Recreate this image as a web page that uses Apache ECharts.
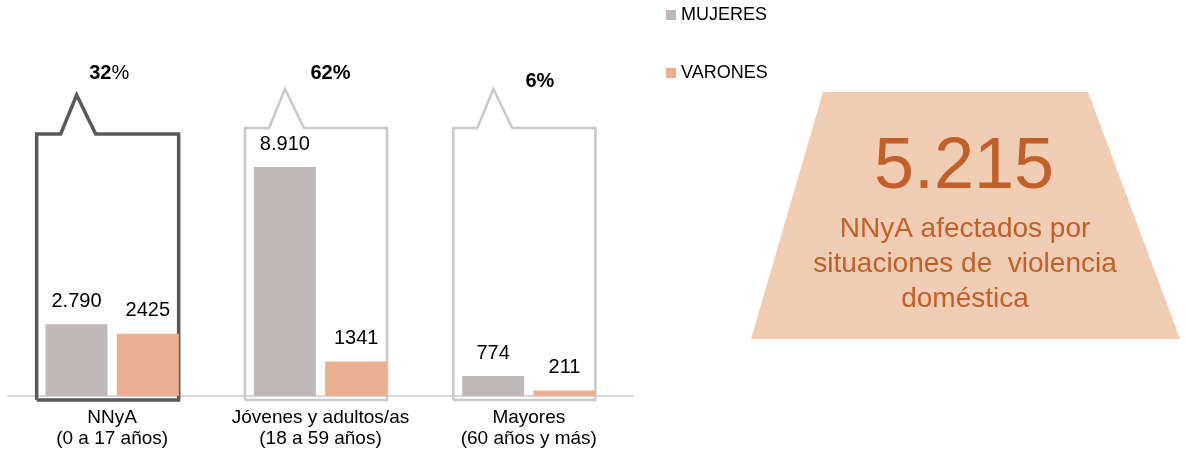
<!DOCTYPE html>
<html>
<head>
<meta charset="utf-8">
<script src="https://cdn.jsdelivr.net/npm/echarts@6/dist/echarts.min.js"></script>
<style>
  html, body { margin: 0; padding: 0; background: #fff; }
  #chart { width: 1186px; height: 452px; }
</style>
</head>
<body>
<div id="chart"></div>
<script>
// datos
const categories = ['NNyA\n(0 a 17 años)', 'Jóvenes y adultos/as\n(18 a 59 años)', 'Mayores\n(60 años y más)']
const mujeres = [2790, 8910, 774]
const varones = [2425, 1341, 211]
const mujeresLabels = ['2.790', '8.910', '774']
const varonesLabels = ['2425', '1341', '211']
const pctLabels = ['32', '62', '6']
const totalNNyA = mujeres[0] + varones[0]

const font = 'Liberation Sans, Arial, sans-serif'

// caja con "pico" alrededor de cada grupo
const boxStyle = [
  { stroke: '#595959', lineWidth: 3.5, top: 262, pctDx: 0, pctY: 73, pctBold: false },
  { stroke: '#c9c9c9', lineWidth: 2.5, top: 268, pctDx: 13, pctY: 73, pctBold: true },
  { stroke: '#c9c9c9', lineWidth: 2.5, top: 268, pctDx: 14, pctY: 81, pctBold: true }
]

function renderBox(params, api) {
  const i = api.value(0)
  const p = api.coord([i, 0])
  const s = boxStyle[i]
  const l = p[0] - 75.5
  const r = p[0] + 66.5
  const b = p[1] + 4
  const t = p[1] - s.top
  const pts = [
    [l, b], [l, t], [l + 24, t], [l + 40, t - 39], [l + 59, t], [r, t], [r, b], [l, b]
  ]
  return {
    type: 'group',
    children: [
      {
        type: 'polyline',
        shape: { points: pts },
        style: { stroke: s.stroke, lineWidth: s.lineWidth, fill: null, lineJoin: 'miter' }
      },
      {
        type: 'text',
        x: p[0] - 3 + s.pctDx,
        y: s.pctY,
        style: {
          text: '{b|' + pctLabels[i] + '}{' + (s.pctBold ? 'b' : 'n') + '|%}',
          align: 'center',
          verticalAlign: 'middle',
          rich: {
            b: { fontFamily: font, fontSize: 20, fontWeight: 'bold', fill: '#000' },
            n: { fontFamily: font, fontSize: 20, fill: '#000' }
          }
        }
      }
    ]
  }
}

const chart = echarts.init(document.getElementById('chart'))
chart.setOption({
  animation: false,
  textStyle: { fontFamily: font },
  legend: {
    orient: 'vertical',
    left: 661,
    top: 1,
    itemWidth: 10,
    itemHeight: 10,
    itemGap: 40,
    icon: 'rect',
    data: ['MUJERES', 'VARONES'],
    textStyle: { fontFamily: font, fontSize: 18, color: '#000' }
  },
  grid: { left: 8, right: 553, top: 139, bottom: 56 },
  xAxis: {
    type: 'category',
    data: categories,
    axisLine: { lineStyle: { color: '#d9d9d9', width: 2 } },
    axisTick: { show: false },
    axisLabel: { fontFamily: font, fontSize: 19, color: '#000', lineHeight: 21, margin: 11, interval: 0 }
  },
  yAxis: { type: 'value', min: 0, max: 10000, show: false, splitLine: { show: false } },
  graphic: [
    {
      type: 'polygon',
      shape: { points: [[823, 92], [1088, 92], [1180, 339], [751, 339]] },
      style: { fill: '#f1cdb4' }
    },
    {
      type: 'text',
      x: 964,
      y: 168,
      style: {
        text: totalNNyA.toLocaleString('de-DE'),
        fontFamily: font,
        fontSize: 72,
        fill: '#c0612b',
        align: 'center',
        verticalAlign: 'middle'
      }
    },
    {
      type: 'text',
      x: 965,
      y: 264,
      style: {
        text: 'NNyA afectados por\nsituaciones de  violencia\ndoméstica',
        fontFamily: font,
        fontSize: 28,
        lineHeight: 35,
        fill: '#c0612b',
        align: 'center',
        verticalAlign: 'middle'
      }
    }
  ],
  series: [
    {
      type: 'custom',
      name: 'cajas',
      renderItem: renderBox,
      data: [[0, 0], [1, 0], [2, 0]],
      encode: { x: 0, y: 1 },
      clip: false,
      silent: true,
      z: 1
    },
    {
      name: 'MUJERES',
      type: 'bar',
      data: mujeres,
      barWidth: 62,
      barGap: '15%',
      itemStyle: { color: '#bfb9b9' },
      z: 2,
      label: {
        show: true,
        position: 'top',
        distance: 13,
        fontFamily: font,
        fontSize: 20,
        color: '#000',
        formatter: (p) => mujeresLabels[p.dataIndex]
      }
    },
    {
      name: 'VARONES',
      type: 'bar',
      data: varones,
      barWidth: 62,
      itemStyle: { color: '#ebb093' },
      z: 2,
      label: {
        show: true,
        position: 'top',
        distance: 13,
        fontFamily: font,
        fontSize: 20,
        color: '#000',
        formatter: (p) => varonesLabels[p.dataIndex]
      }
    }
  ]
})
</script>
</body>
</html>
